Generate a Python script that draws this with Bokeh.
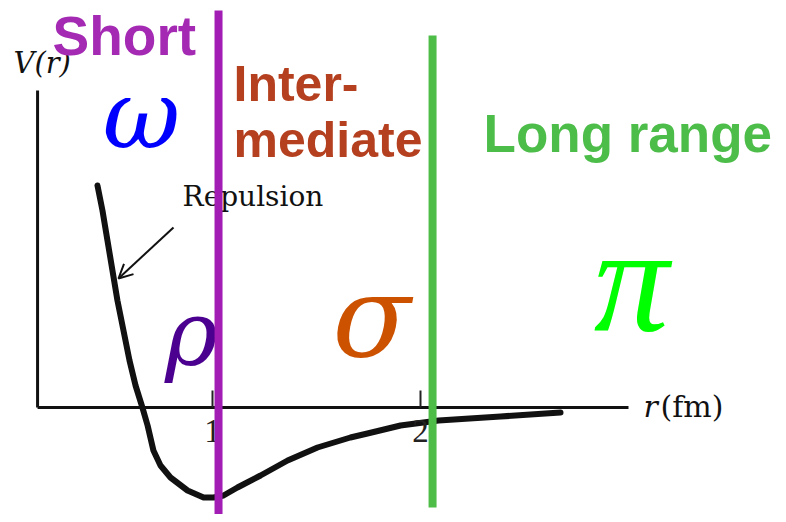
from bokeh.plotting import figure
from bokeh.models import Range1d, Arrow, OpenHead
from bokeh.core.properties import value
from bokeh.embed import file_html
from bokeh.resources import INLINE

# ---- data (r in fm, V in arbitrary units) ----
r_curve = [0.447, 0.471, 0.495, 0.519, 0.543, 0.572, 0.601, 0.630, 0.663,
           0.688, 0.716, 0.750, 0.798, 0.880, 0.957, 1.005, 1.053, 1.120,
           1.231, 1.361, 1.505, 1.663, 1.745, 1.904, 2.087, 2.385, 2.673]
V_curve = [2.22, 1.97, 1.67, 1.37, 1.07, 0.77, 0.47, 0.22, 0.00,
           -0.18, -0.43, -0.58, -0.70, -0.83, -0.90, -0.90, -0.88, -0.80,
           -0.68, -0.53, -0.40, -0.30, -0.26, -0.18, -0.13, -0.09, -0.05]

tick_r = [1, 2]
tick_labels = ["1", "2"]

boundary_short = 1.029     # Short / Intermediate
boundary_long = 2.058      # Intermediate / Long range

axis_origin_r = 0.159
axis_end_r = 3.0
axis_top_V = 3.17

region_labels = ["Short", "Inter-", "mediate", "Long range"]
region_r = [0.231, 1.101, 1.101, 2.303]
region_V = [3.72, 3.235, 2.675, 2.736]

meson_labels = ["ω", "ρ", "σ", "π"]
meson_r = [0.659, 0.899, 1.764, 3.014]
meson_V = [2.922, 0.753, 0.916, 1.275]

# ---- figure ----
p = figure(width=778, height=514, x_range=Range1d(-0.01923, 3.7212),
           y_range=Range1d(-1.07, 4.07), output_backend="svg",
           toolbar_location=None, min_border=0)
p.axis.visible = False
p.grid.visible = False
p.outline_line_color = None
p.background_fill_color = "white"
p.border_fill_color = "white"

# potential curve
p.line(r_curve, V_curve, line_width=6, line_color="#111111", line_cap="round", line_join="round")

# axes
p.line([axis_origin_r, axis_origin_r], [0, axis_top_V], line_width=3, line_color="#111111")
p.line([axis_origin_r, axis_end_r], [0, 0], line_width=3, line_color="#111111")
for t in tick_r:
    p.line([t, t], [0, 0.17], line_width=2, line_color="#222222")
p.text(x=tick_r, y=[-0.238, -0.238], text=tick_labels, text_align="center",
       text_baseline="alphabetic", text_font=value("Liberation Serif"),
       text_font_size="33px", text_color="#222222")

# axis labels
p.text(x=[0.043], y=[3.447], text=["V(r)"], text_font=value("DejaVu Serif"),
       text_font_style="italic", text_font_size="29px", text_color="#111111",
       text_baseline="alphabetic")
p.text(x=[3.072], y=[0.015], text=["r"], text_font=value("DejaVu Serif"),
       text_font_style="italic", text_font_size="30px", text_color="#111111",
       text_baseline="alphabetic")
p.text(x=[3.154], y=[0.015], text=["(fm)"], text_font=value("DejaVu Serif"),
       text_font_size="30px", text_color="#111111", text_baseline="alphabetic")

# Repulsion annotation
p.text(x=[0.856], y=[2.114], text=["Repulsion"], text_font=value("DejaVu Serif"),
       text_font_size="28px", text_color="#111111", text_baseline="alphabetic")
p.add_layout(Arrow(end=OpenHead(size=14, line_width=2, line_color="#111111"),
                   x_start=0.8125, y_start=1.80, x_end=0.548, y_end=1.29,
                   line_width=2, line_color="#111111"))

# region labels
region_colors = ["#A42AB4", "#B5401F", "#B5401F", "#4DBD4A"]
region_sizes = ["55px", "50px", "50px", "53px"]
for lab, rr, vv, c, s in zip(region_labels, region_r, region_V, region_colors, region_sizes):
    p.text(x=[rr], y=[vv], text=[lab], text_font=value("Liberation Sans"),
           text_font_style="bold", text_font_size=s, text_color=c,
           text_baseline="alphabetic", text_align="left")

# meson letters
meson_colors = ["#0000FF", "#4B0090", "#CC5200", "#00FF00"]
meson_sizes = ["95px", "90px", "115px", "150px"]
meson_fonts = ["DejaVu Serif", "DejaVu Serif", "DejaVu Serif", "Liberation Serif"]
for lab, rr, vv, c, s, f in zip(meson_labels, meson_r, meson_V, meson_colors, meson_sizes, meson_fonts):
    p.text(x=[rr], y=[vv], text=[lab], text_font=value(f),
           text_font_style="italic", text_font_size=s, text_color=c,
           text_baseline="alphabetic", text_align="center")

# region boundaries
p.line([boundary_short, boundary_short], [-1.2, 3.97], line_width=8, line_color="#A11DB4")
p.line([boundary_long, boundary_long], [-1.0, 3.72], line_width=8, line_color="#4DBD48")

open("out.html", "w").write(file_html(p, INLINE))
